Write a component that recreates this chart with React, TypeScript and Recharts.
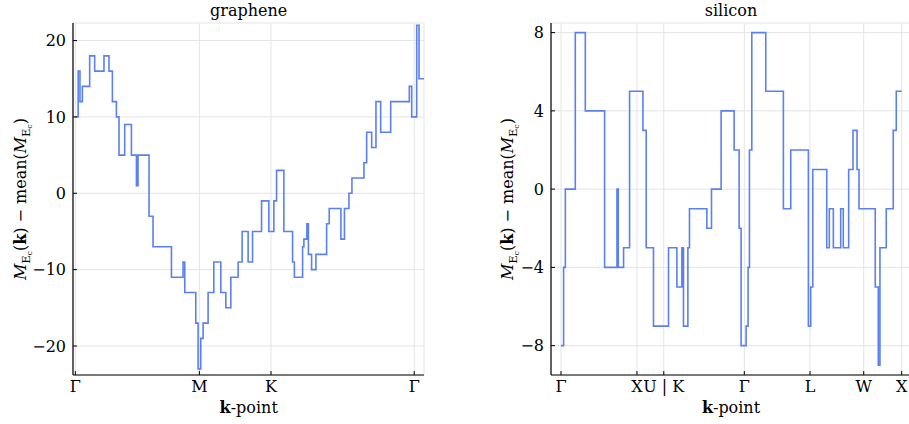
import React from 'react';
import { LineChart, Line, XAxis, YAxis, CartesianGrid } from 'recharts';

// graphene: k-path distance breakpoints and step values
const grapheneK = [0, 0.0226, 0.0371, 0.0565, 0.1154, 0.1558, 0.2308, 0.2712, 0.2986, 0.3309, 0.3519, 0.3979, 0.452, 0.4923, 0.5052, 0.594, 0.6263, 0.7748, 0.8684, 0.8822, 0.9709, 0.9895, 1.0113, 1.0299, 1.0702, 1.1162, 1.1727, 1.2131, 1.2534, 1.3123, 1.3446, 1.393, 1.4286, 1.5012, 1.5601, 1.6005, 1.6223, 1.6812, 1.7514, 1.7659, 1.8321, 1.8426, 1.8668, 1.8789, 1.9047, 1.9395, 2.0258, 2.0468, 2.1412, 2.1695, 2.2058, 2.23, 2.3269, 2.3487, 2.389, 2.4237, 2.4617, 2.5424, 2.6925, 2.7119, 2.7522, 2.7708, 2.811];
const grapheneV = [10, 16, 12, 14, 18, 16, 18, 16, 12, 10, 5, 9, 5, 1, 5, -3, -7, -11, -9, -13, -17, -23, -19, -17, -13, -9, -13, -15, -11, -9, -5, -9, -5, -1, -5, -1, 3, -5, -9, -11, -7, -6, -4, -8, -10, -8, -4, -2, -6, -2, 0, 2, 4, 8, 6, 12, 8, 12, 14, 10, 22, 15, 15];
const grapheneTicks = [0, 1, 1.5774, 2.7321];
const grapheneTickLabels = ['Γ', 'M', 'K', 'Γ'];
const grapheneYTicks = [-20, -10, 0, 10, 20];

// silicon
const siliconK = [0, 0.034, 0.057, 0.188, 0.32, 0.574, 0.737, 0.754, 0.824, 0.903, 1.079, 1.122, 1.218, 1.416, 1.526, 1.592, 1.613, 1.671, 1.692, 1.921, 1.982, 2.109, 2.28, 2.346, 2.372, 2.438, 2.464, 2.482, 2.513, 2.697, 2.929, 3.026, 3.258, 3.289, 3.316, 3.5, 3.534, 3.587, 3.684, 3.718, 3.789, 3.846, 3.899, 3.925, 4.139, 4.179, 4.201, 4.284, 4.376, 4.416, 4.487];
const siliconV = [-8, -4, 0, 8, 4, -4, 0, -4, -3, 5, 3, -3, -7, -3, -5, -3, -7, -3, -1, -2, 0, 4, 2, -2, -8, -7, -4, 2, 8, 5, -1, 2, -7, -5, 1, -3, -1, -3, -1, -3, 1, 3, 1, -1, -5, -9, -3, -1, 3, 5, 5];
const siliconTicks = [0, 1, 1.3536, 2.4142, 3.2802, 3.9873, 4.4873];
const siliconTickLabels = ['Γ', 'X', 'U | K', 'Γ', 'L', 'W', 'X'];
const siliconYTicks = [-8, -4, 0, 4, 8];

const grapheneData = grapheneK.map((k, i) => ({ k, v: grapheneV[i] }));
const siliconData = siliconK.map((k, i) => ({ k, v: siliconV[i] }));

const FONT = 'DejaVu Serif';
const LINE = '#5a80f2';
const fmtY = (v: number) => (v < 0 ? `\u2212${-v}` : `${v}`);

type PanelProps = {
  data: { k: number; v: number }[];
  xDomain: [number, number];
  yDomain: [number, number];
  xTicks: number[];
  xLabels: string[];
  yTicks: number[];
  yAxisWidth: number;
  marginRight: number;
};

function Panel(p: PanelProps) {
  const tickStyle = { fill: '#000', fontSize: 16, fontFamily: FONT };
  return (
    <LineChart width={440} height={424} data={p.data} margin={{ top: 23, right: p.marginRight, bottom: 0, left: 0 }}>
      <CartesianGrid stroke="#e4e4e4" strokeWidth={1} />
      <XAxis
        dataKey="k"
        type="number"
        domain={p.xDomain}
        allowDataOverflow
        ticks={p.xTicks}
        interval={0}
        tickFormatter={(_v: number, i: number) => p.xLabels[i]}
        height={49}
        tickSize={-4}
        tickMargin={10}
        axisLine={{ stroke: '#000', strokeWidth: 1.2 }}
        tickLine={{ stroke: '#000' }}
        tick={tickStyle}
      />
      <XAxis
        xAxisId="top"
        orientation="top"
        type="number"
        domain={p.xDomain}
        allowDataOverflow
        ticks={p.xTicks}
        interval={0}
        height={0}
        tickSize={-4}
        tick={false}
        axisLine={{ stroke: '#000', strokeWidth: 1.2 }}
        tickLine={{ stroke: '#000' }}
      />
      <YAxis
        type="number"
        domain={p.yDomain}
        allowDataOverflow
        ticks={p.yTicks}
        interval={0}
        width={p.yAxisWidth}
        tickSize={-4}
        tickMargin={11}
        tickFormatter={fmtY}
        axisLine={{ stroke: '#000', strokeWidth: 1.2 }}
        tickLine={{ stroke: '#000' }}
        tick={tickStyle}
      />
      <YAxis
        yAxisId="right"
        orientation="right"
        type="number"
        domain={p.yDomain}
        allowDataOverflow
        ticks={p.yTicks}
        interval={0}
        width={0}
        tickSize={-4}
        tick={false}
        axisLine={{ stroke: '#000', strokeWidth: 1.2 }}
        tickLine={{ stroke: '#000' }}
      />
      <Line type="stepAfter" dataKey="v" stroke={LINE} strokeWidth={1.6} dot={false} isAnimationActive={false} />
    </LineChart>
  );
}

function YLabel({ x, y }: { x: number; y: number }) {
  return (
    <text transform={`translate(${x},${y}) rotate(-90)`} textAnchor="middle" fontFamily={FONT} fontSize={16} fill="#000">
      <tspan fontStyle="italic">M</tspan>
      <tspan fontSize={11} dy={4}>E</tspan>
      <tspan fontSize={8} dy={2}>c</tspan>
      <tspan dy={-6}>(</tspan>
      <tspan fontWeight="bold">k</tspan>
      <tspan>) − mean(</tspan>
      <tspan fontStyle="italic">M</tspan>
      <tspan fontSize={11} dy={4}>E</tspan>
      <tspan fontSize={8} dy={2}>c</tspan>
      <tspan dy={-6}>)</tspan>
    </text>
  );
}

function XLabel({ x, y }: { x: number; y: number }) {
  return (
    <text x={x} y={y} textAnchor="middle" fontFamily={FONT} fontSize={16} fill="#000">
      <tspan fontWeight="bold">k</tspan>
      <tspan>-point</tspan>
    </text>
  );
}

export default function App() {
  return (
    <div style={{ position: 'fixed', left: 0, top: 0, width: 909, height: 424, overflow: 'hidden', background: '#fff' }}>
      <div style={{ position: 'absolute', left: 0, top: 0 }}>
        <Panel
          data={grapheneData}
          xDomain={[-0.019, 2.811]}
          yDomain={[-23.8, 22.3]}
          xTicks={grapheneTicks}
          xLabels={grapheneTickLabels}
          yTicks={grapheneYTicks}
          yAxisWidth={73}
          marginRight={16}
        />
      </div>
      <div style={{ position: 'absolute', left: 480, top: 0 }}>
        <Panel
          data={siliconData}
          xDomain={[-0.132, 4.61]}
          yDomain={[-9.5, 8.49]}
          xTicks={siliconTicks}
          xLabels={siliconTickLabels}
          yTicks={siliconYTicks}
          yAxisWidth={71}
          marginRight={9}
        />
      </div>
      <svg width={909} height={424} style={{ position: 'absolute', left: 0, top: 0, pointerEvents: 'none' }}>
        <text x={248.7} y={16} textAnchor="middle" fontFamily={FONT} fontSize={16} fill="#000">graphene</text>
        <text x={731} y={16} textAnchor="middle" fontFamily={FONT} fontSize={16} fill="#000">silicon</text>
        <YLabel x={26} y={199} />
        <YLabel x={513} y={199} />
        <XLabel x={248.7} y={413} />
        <XLabel x={731} y={413} />
      </svg>
    </div>
  );
}
